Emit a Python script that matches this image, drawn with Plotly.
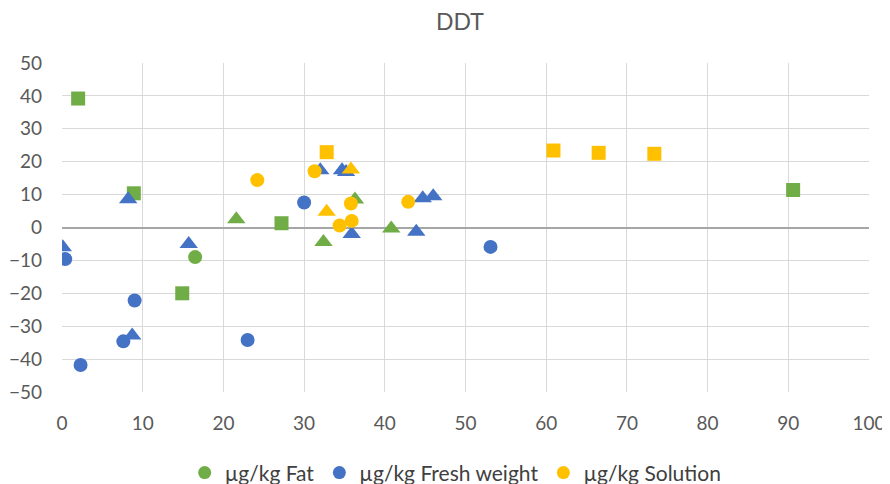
import plotly.graph_objects as go

# Fat (green)
fat_sq_x = [2.0, 8.9, 27.2, 14.9, 90.6]
fat_sq_y = [39.2, 10.4, 1.3, -20.0, 11.4]
fat_tri_x = [21.6, 32.4, 36.3, 40.8]
fat_tri_y = [2.5, -4.4, 8.5, -0.3]
fat_circ_x = [16.5]
fat_circ_y = [-9.0]

# Fresh weight (blue)
fw_circ_x = [0.4, 9.0, 7.6, 2.3, 23.0, 30.0, 53.1]
fw_circ_y = [-9.6, -22.2, -34.6, -41.8, -34.2, 7.6, -5.9]
fw_tri_x = [0.1, 8.2, 8.7, 15.7, 32.0, 34.7, 35.2, 35.9, 43.9, 44.7, 46.0]
fw_tri_y = [-6.0, 8.6, -32.8, -5.0, 17.4, 17.4, 16.9, -2.0, -1.3, 8.9, 9.5]

# Solution (orange)
sol_circ_x = [24.2, 31.3, 35.8, 34.4, 35.9, 42.9]
sol_circ_y = [14.4, 17.1, 7.3, 0.6, 2.0, 7.8]
sol_tri_x = [32.8, 35.8]
sol_tri_y = [4.8, 17.6]
sol_sq_x = [32.8, 60.9, 66.5, 73.4]
sol_sq_y = [22.9, 23.4, 22.7, 22.4]

series_names = ["µg/kg Fat", "µg/kg Fresh weight", "µg/kg Solution"]
colors = ["#70AD47", "#4472C4", "#FFC000"]

x_ticks = [0, 10, 20, 30, 40, 50, 60, 70, 80, 90, 100]
y_ticks = [-50, -40, -30, -20, -10, 0, 10, 20, 30, 40, 50]

fig = go.Figure()

def add(x, y, color, symbol, size):
    fig.add_trace(go.Scatter(
        x=x, y=y, mode="markers", showlegend=False, hoverinfo="x+y",
        marker=dict(color=color, symbol=symbol, size=size, line=dict(width=0)),
    ))

# draw order
add(fat_sq_x, fat_sq_y, colors[0], "square", 14)
add(fat_tri_x, fat_tri_y, colors[0], "triangle-up", 16)
add(fat_circ_x, fat_circ_y, colors[0], "circle", 14)
add(fw_circ_x, fw_circ_y, colors[1], "circle", 14)
add(fw_tri_x, fw_tri_y, colors[1], "triangle-up", 16)
add(sol_sq_x, sol_sq_y, colors[2], "square", 14)
add(sol_tri_x, sol_tri_y, colors[2], "triangle-up", 16)
add(sol_circ_x, sol_circ_y, colors[2], "circle", 14)

# legend entries
for name, c in zip(series_names, colors):
    fig.add_trace(go.Scatter(
        x=[None], y=[None], mode="markers", name=name,
        marker=dict(color=c, symbol="circle", size=13),
    ))

font_family = "Lato, 'Open Sans', sans-serif"
fig.update_layout(
    width=882, height=476,
    margin=dict(l=54, r=21, t=55, b=92, autoexpand=False),
    paper_bgcolor="white", plot_bgcolor="white",
    font=dict(family=font_family, color="#595959", size=19),
    title=dict(text="DDT", x=0.5125, xanchor="center", y=0.971, yanchor="middle",
               yref="container", font=dict(size=23, color="#595959")),
    legend=dict(orientation="h", x=0.152, xanchor="left", y=-0.246, yanchor="middle",
                font=dict(size=21, color="#404040"), itemwidth=30),
    showlegend=True,
)
fig.update_xaxes(range=[0, 100], tickvals=x_ticks, showgrid=True, gridcolor="#D9D9D9",
                 gridwidth=1, zeroline=False, showline=False, ticks="", automargin=False,
                 tickfont=dict(size=19), ticklabelstandoff=18, fixedrange=True)
fig.update_yaxes(range=[-50, 50], tickvals=y_ticks, showgrid=True, gridcolor="#D9D9D9",
                 gridwidth=1, zeroline=True, zerolinecolor="#A6A6A6", zerolinewidth=1.5,
                 showline=False, ticks="", automargin=False, tickfont=dict(size=19),
                 ticklabelstandoff=19, fixedrange=True)

fig.write_html("out.html")
